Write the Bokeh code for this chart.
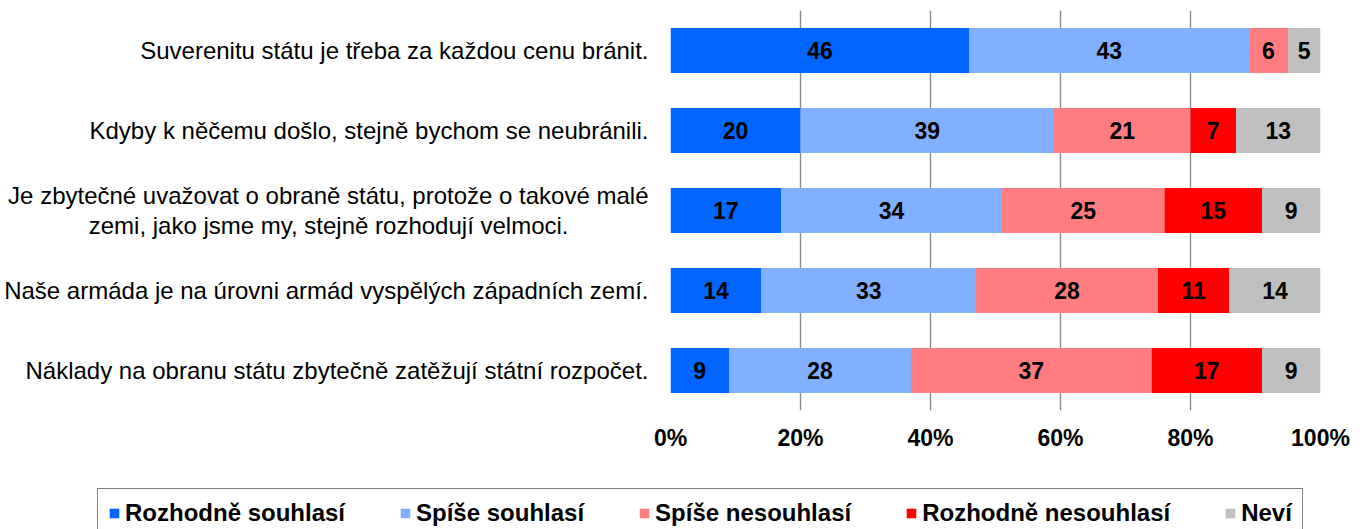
from bokeh.plotting import figure
from bokeh.layouts import column
from bokeh.models import (ColumnDataSource, FactorRange, Range1d, FixedTicker,
                          PrintfTickFormatter, Legend, LegendItem)
from bokeh.embed import file_html
from bokeh.resources import INLINE
from bokeh.core.properties import value

# ---- data ----
NB = "\u00a0"
statements = [
    "Suverenitu státu je třeba za každou cenu bránit.",
    "Kdyby k něčemu došlo, stejně bychom se neubránili.",
    "Je zbytečné uvažovat o obraně státu, protože o takové malé\nzemi, jako jsme my, stejně rozhodují velmoci." + NB * 12,
    "Naše armáda je na úrovni armád vyspělých západních zemí.",
    "Náklady na obranu státu zbytečně zatěžují státní rozpočet.",
]
series = ["Rozhodně souhlasí", "Spíše souhlasí", "Spíše nesouhlasí",
          "Rozhodně nesouhlasí", "Neví"]
rozhodne_souhlasi = [46, 20, 17, 14, 9]
spise_souhlasi = [43, 39, 34, 33, 28]
spise_nesouhlasi = [6, 21, 25, 28, 37]
rozhodne_nesouhlasi = [0, 7, 15, 11, 17]
nevi = [5, 13, 9, 14, 9]
x_ticks = [0, 20, 40, 60, 80, 100]

colors = ["#0066FF", "#80B0FF", "#FF7C80", "#FF0000", "#C0C0C0"]
FONT = "Liberation Sans"

values = [rozhodne_souhlasi, spise_souhlasi, spise_nesouhlasi,
          rozhodne_nesouhlasi, nevi]
keys = ["s%d" % i for i in range(len(series))]
data = {"cat": statements}
for k, v in zip(keys, values):
    data[k] = v
src = ColumnDataSource(data)

p = figure(width=1365, height=487, output_backend="svg", toolbar_location=None,
           y_range=FactorRange(*reversed(statements)),
           x_range=Range1d(0, 100),
           min_border_left=670, min_border_right=45,
           min_border_top=10, min_border_bottom=77,
           outline_line_color=None, background_fill_color="white")
p.frame_align = False

p.hbar_stack(keys, y="cat", height=0.5625, color=colors,
             line_color=None, source=src)

# value labels
lx, ly, lt = [], [], []
for ci, cat in enumerate(statements):
    left = 0
    for vals in values:
        v = vals[ci]
        if v > 0:
            lx.append(left + v / 2)
            ly.append(cat)
            lt.append(str(v))
        left += v
p.text(x=lx, y=ly, text=lt, text_align="center", text_baseline="middle",
       text_font=value(FONT), text_font_style="bold", text_font_size="23px",
       text_color="black")

# axes
p.xaxis.ticker = FixedTicker(ticks=x_ticks)
p.xaxis.formatter = PrintfTickFormatter(format="%d%%")
p.xaxis.axis_line_color = None
p.xaxis.major_tick_line_color = None
p.xaxis.minor_tick_line_color = None
p.xaxis.major_tick_out = 0
p.xaxis.major_label_standoff = 14
p.xaxis.major_label_text_font = FONT
p.xaxis.major_label_text_font_style = "bold"
p.xaxis.major_label_text_font_size = "23px"
p.xaxis.major_label_text_color = "black"

p.yaxis.axis_line_color = None
p.yaxis.major_tick_line_color = None
p.yaxis.major_tick_out = 0
p.yaxis.major_label_standoff = 22
p.yaxis.major_label_text_font = FONT
p.yaxis.major_label_text_font_size = "24px"
p.yaxis.major_label_text_line_height = 1.1
p.yaxis.major_label_text_color = "black"

p.xgrid.ticker = FixedTicker(ticks=x_ticks)
p.xgrid.grid_line_color = "#8A8A8A"
p.xgrid.grid_line_width = 1.4
p.ygrid.grid_line_color = None

# ---- legend strip (own figure, frame spans the full width) ----
p2 = figure(width=1365, height=42, output_backend="svg", toolbar_location=None,
            x_range=Range1d(0, 100), y_range=FactorRange(*statements),
            x_axis_location=None, y_axis_location=None,
            min_border=0, outline_line_color=None)
p2.frame_align = False
p2.xgrid.grid_line_color = None
p2.ygrid.grid_line_color = None
proxies = p2.hbar_stack(keys, y="cat", height=0.5, color=colors,
                        line_color=None, source=src)
for r in proxies:
    r.visible = False
items = [LegendItem(label=s, renderers=[r]) for s, r in zip(series, proxies)]
legend = Legend(items=items, orientation="horizontal", location=(97, -9),
                border_line_color="black", border_line_width=1, padding=10,
                spacing=54, glyph_width=12, glyph_height=12, label_standoff=5,
                label_text_font=FONT, label_text_font_style="bold",
                label_text_font_size="24px", label_text_color="black",
                inactive_fill_alpha=0, click_policy="none",
                background_fill_color="white", background_fill_alpha=1, margin=0)
p2.add_layout(legend, "center")

layout = column(p, p2, spacing=0)
open("out.html", "w").write(file_html(layout, INLINE))
